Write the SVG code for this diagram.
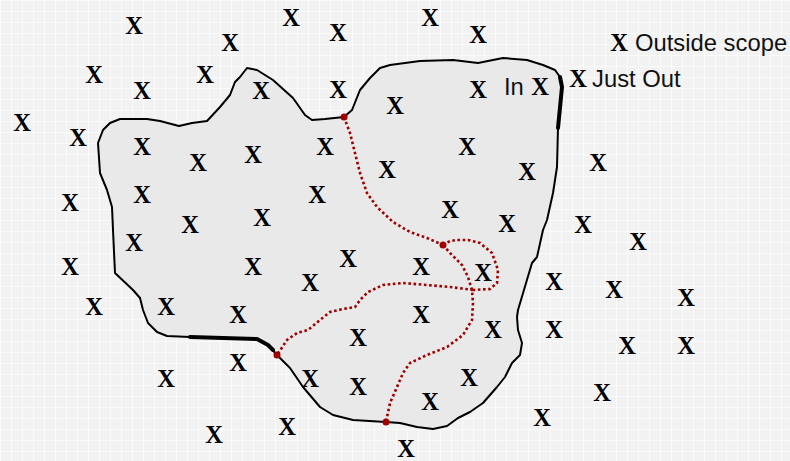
<svg xmlns="http://www.w3.org/2000/svg" width="790" height="461" viewBox="0 0 790 461">
<defs>
<pattern id="grid" width="11" height="11" patternUnits="userSpaceOnUse">
<rect width="11" height="11" fill="#f2f2f2"/>
<path d="M0 0.5H11M0.5 0V11" stroke="#fafafa" stroke-width="1" fill="none"/>
</pattern>
<style>
.x{font-family:"Liberation Serif","Times New Roman",serif;font-weight:bold;font-size:24.5px;fill:#000;text-anchor:middle}
.lbl{font-family:"Liberation Sans",Arial,sans-serif;font-size:23.8px;fill:#111}
.edge{fill:#e9e9e9;stroke:#000;stroke-width:2;stroke-linejoin:round;stroke-linecap:round}
.thick{fill:none;stroke:#000;stroke-width:4;stroke-linejoin:round;stroke-linecap:round}
.dot{fill:none;stroke:#a00000;stroke-width:2.6;stroke-dasharray:2.6 2.6}
.pt{fill:#a00000}
</style>
</defs>
<rect width="790" height="461" fill="url(#grid)"/>
<g id="region">
<path class="edge" d="M98,143 L103,130 L110,123 L120,119 L147,119 L160,121 L179,126 L192,123 L207,121 L220,107 L230,95 L235,82 L240,77 L247,68 L257,70 L273,80 L293,98 L305,115 L312,120 L325,119 L344,117 L352,110 L360,90 L370,78 L380,68 L390,65 L420,61 L453,60 L478,63 L503,58 L527,60 L543,65 L555,70 L560,77 L562,87 L558,128 L557,167 L553,193 L547,220 L543,230 L537,257 L532,263 L518,310 L517,317 L518,330 L522,343 L520,355 L512,363 L505,377 L497,387 L483,403 L470,412 L458,418 L447,426 L433,429 L417,427 L400,423 L386,422 L353,420 L333,415 L320,407 L303,387 L290,368 L277,355 L268,345 L257,339 L190,337 L167,336 L157,332 L148,323 L143,310 L140,298 L133,290 L115,273 L113,230 L112,207 L107,190 L100,173 Z"/>
<path class="thick" d="M560,77 L562,87 L558,128"/>
<path class="thick" d="M190,337 L257,339 L268,345 L273,350"/>
</g>
<g id="connectors">
<path class="dot" d="M344,117 L350,133 L355,153 L360,173 L367,193 L377,207 L393,222 L410,232 L427,238 L443,245"/>
<path class="dot" d="M443,245 L450,241 L457,240 L468,240 L480,243 L492,253 L498,270 L497,283 L490,289 L473,290"/>
<path class="dot" d="M443,245 L450,253 L462,265 L468,277 L472,290 L473,303 L472,320 L463,335 L447,347 L427,355 L410,363 L403,373 L397,387 L390,403 L386,422"/>
<path class="dot" d="M473,290 L450,287 L427,285 L403,283 L383,285 L368,292 L360,300 L355,307 L343,309 L330,312 L320,320 L308,330 L297,333 L287,340 L277,355"/>
<circle class="pt" cx="344" cy="117" r="3.5"/>
<circle class="pt" cx="443" cy="245" r="3.5"/>
<circle class="pt" cx="277" cy="355" r="3.5"/>
<circle class="pt" cx="386" cy="422" r="3.5"/>
</g>
<g id="marks">
<text class="x" x="134" y="34">X</text>
<text class="x" x="230" y="51">X</text>
<text class="x" x="291" y="26">X</text>
<text class="x" x="338" y="41">X</text>
<text class="x" x="430" y="26">X</text>
<text class="x" x="478" y="43">X</text>
<text class="x" x="94" y="83">X</text>
<text class="x" x="142" y="99">X</text>
<text class="x" x="205" y="83">X</text>
<text class="x" x="261" y="99">X</text>
<text class="x" x="338" y="98">X</text>
<text class="x" x="478" y="98">X</text>
<text class="x" x="395" y="114">X</text>
<text class="x" x="22" y="131">X</text>
<text class="x" x="78" y="146">X</text>
<text class="x" x="142" y="155">X</text>
<text class="x" x="198" y="171">X</text>
<text class="x" x="253" y="163">X</text>
<text class="x" x="325" y="155">X</text>
<text class="x" x="387" y="178">X</text>
<text class="x" x="467" y="155">X</text>
<text class="x" x="527" y="180">X</text>
<text class="x" x="598" y="171">X</text>
<text class="x" x="70" y="211">X</text>
<text class="x" x="142" y="203">X</text>
<text class="x" x="317" y="203">X</text>
<text class="x" x="262" y="226">X</text>
<text class="x" x="190" y="233">X</text>
<text class="x" x="450" y="218">X</text>
<text class="x" x="507" y="232">X</text>
<text class="x" x="583" y="233">X</text>
<text class="x" x="638" y="250">X</text>
<text class="x" x="134" y="251">X</text>
<text class="x" x="70" y="275">X</text>
<text class="x" x="253" y="275">X</text>
<text class="x" x="348" y="267">X</text>
<text class="x" x="421" y="275">X</text>
<text class="x" x="483" y="281">X</text>
<text class="x" x="554" y="290">X</text>
<text class="x" x="614" y="298">X</text>
<text class="x" x="686" y="306">X</text>
<text class="x" x="310" y="291">X</text>
<text class="x" x="94" y="315">X</text>
<text class="x" x="166" y="315">X</text>
<text class="x" x="238" y="323">X</text>
<text class="x" x="421" y="323">X</text>
<text class="x" x="493" y="338">X</text>
<text class="x" x="554" y="338">X</text>
<text class="x" x="627" y="354">X</text>
<text class="x" x="686" y="354">X</text>
<text class="x" x="358" y="346">X</text>
<text class="x" x="238" y="371">X</text>
<text class="x" x="166" y="387">X</text>
<text class="x" x="310" y="387">X</text>
<text class="x" x="358" y="395">X</text>
<text class="x" x="469" y="386">X</text>
<text class="x" x="430" y="410">X</text>
<text class="x" x="602" y="401">X</text>
<text class="x" x="542" y="426">X</text>
<text class="x" x="214" y="443">X</text>
<text class="x" x="287" y="435">X</text>
<text class="x" x="406" y="457">X</text>
</g>
<g id="label-in">
<text class="lbl" x="504" y="95">In</text>
<text class="x" x="540" y="95">X</text>
</g>
<g id="label-just-out">
<text class="x" x="578" y="87">X</text>
<text class="lbl" x="592" y="87">Just Out</text>
</g>
<g id="label-outside">
<text class="x" x="619" y="51">X</text>
<text class="lbl" x="635" y="51">Outside scope</text>
</g>
</svg>
